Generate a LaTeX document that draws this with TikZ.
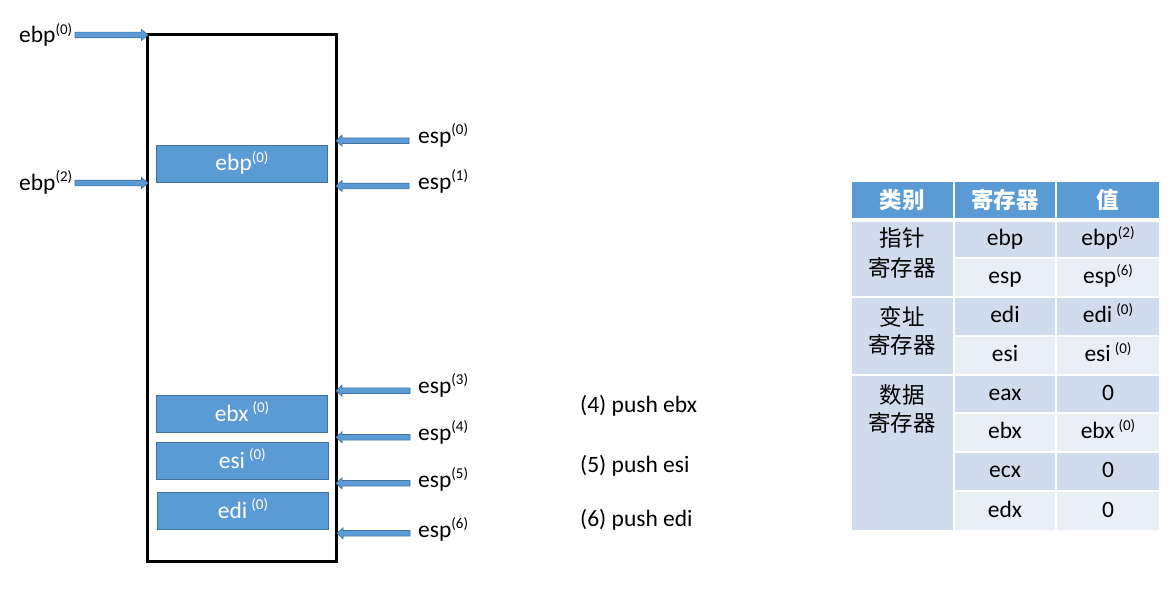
\documentclass[tikz,border=0pt]{standalone}
\usepackage{fontspec}
\setmainfont{Carlito}
\newfontfamily\cjk{Noto Sans CJK SC}
\usetikzlibrary{calc}
\definecolor{oblue}{HTML}{5B9BD5}
\definecolor{oedge}{HTML}{41719C}
\definecolor{rowA}{HTML}{D0DBEE}
\definecolor{rowB}{HTML}{E9EEF7}
\newcommand\sups[1]{\raisebox{8.5pt}{\fontsize{15}{15}\selectfont #1}}
\newcommand\barrow[3]{% from, tip, head offset
  \draw[blockarrow] ($(#1)+(0,-2.8)$) -- ($(#2)+(#3,-2.8)$) -- ($(#2)+(#3,-5.5)$) -- (#2)
    -- ($(#2)+(#3,5.5)$) -- ($(#2)+(#3,2.8)$) -- ($(#1)+(0,2.8)$) -- cycle;}
\newcommand\tcell[5]{\path[fill=#5, draw=white, line width=2pt] (#1,#2) rectangle (#3,#4);}
\begin{document}
\begin{tikzpicture}[x=1pt,y=-1pt,
  lbl/.style={font=\fontsize{23.5}{26}\selectfont, inner sep=0pt, anchor=base west},
  ctext/.style={font=\fontsize{23.5}{26}\selectfont, inner sep=0pt, anchor=base},
  cjktext/.style={font=\cjk\fontsize{22.5}{26}\selectfont, inner sep=0pt, anchor=base},
  hdr/.style={font=\cjk\bfseries\fontsize{22.5}{26}\selectfont, text=white, inner sep=0pt, anchor=base},
  blockarrow/.style={fill=oblue, draw=oedge, line width=0.6pt, line join=miter},
  memcell/.style={fill=oblue, draw=oedge, line width=0.8pt, text=white,
    font=\fontsize{23.5}{26}\selectfont, inner sep=0pt, minimum width=171pt,
    minimum height=37pt, text height=17pt, text depth=3pt}]
\useasboundingbox (0,0) rectangle (1175,594);

% stack frame
\node[draw, line width=3pt, minimum width=189pt, minimum height=526pt, inner sep=0pt] (stack) at (241.5,298) {};

\node[memcell] (bebp) at (242,163.8) {ebp\sups{(0)}};
\node[memcell] (bebx) at (242,414.2) {ebx\hspace{4pt}\sups{(0)}};
\node[memcell, minimum width=172pt] (besi) at (242.3,461.3) {esi\hspace{4pt}\sups{(0)}};
\node[memcell] (bedi) at (243,511.3) {edi\hspace{4pt}\sups{(0)}};

% left labels and arrows
\node[lbl] (lebp0) at (19,43) {ebp\sups{(0)}};
\node[lbl] (lebp2) at (19,190) {ebp\sups{(2)}};
\coordinate (a0s) at (75,35);   \coordinate (a0t) at (148,35);
\coordinate (a2s) at (75,183);  \coordinate (a2t) at (148,183);
\barrow{a0s}{a0t}{-6.5}
\barrow{a2s}{a2t}{-6.5}

% right labels and arrows
\node[lbl] (esp0) at (418,143) {esp\sups{(0)}};
\node[lbl] (esp1) at (418,189) {esp\sups{(1)}};
\node[lbl] (esp3) at (418,393) {esp\sups{(3)}};
\node[lbl] (esp4) at (418,440) {esp\sups{(4)}};
\node[lbl] (esp5) at (418,487) {esp\sups{(5)}};
\node[lbl] (esp6) at (418,537) {esp\sups{(6)}};
\coordinate (s0s) at (409,140.7); \coordinate (s0t) at (336,140.7);
\coordinate (s1s) at (409,186);   \coordinate (s1t) at (336,186);
\coordinate (s3s) at (410,390.7); \coordinate (s3t) at (336,390.7);
\coordinate (s4s) at (410,437.3); \coordinate (s4t) at (336,437.3);
\coordinate (s5s) at (410,483.3); \coordinate (s5t) at (336,483.3);
\coordinate (s6s) at (410,533.3); \coordinate (s6t) at (337,533.3);
\barrow{s0s}{s0t}{6}
\barrow{s1s}{s1t}{6}
\barrow{s3s}{s3t}{6}
\barrow{s4s}{s4t}{6}
\barrow{s5s}{s5t}{6}
\barrow{s6s}{s6t}{6}

% push instructions
\node[lbl] (p4) at (580,412) {(4) push ebx};
\node[lbl] (p5) at (580,472) {(5) push esi};
\node[lbl] (p6) at (580,526) {(6) push edi};

% table
\tcell{851}{181}{954}{219}{oblue}
\tcell{954}{181}{1056}{219}{oblue}
\tcell{1056}{181}{1160}{219}{oblue}
\tcell{851}{221}{954}{297}{rowA}
\tcell{851}{297}{954}{375}{rowA}
\tcell{851}{375}{954}{531}{rowA}
\tcell{954}{221}{1056}{258}{rowA} \tcell{1056}{221}{1160}{258}{rowA}
\tcell{954}{258}{1056}{297}{rowB} \tcell{1056}{258}{1160}{297}{rowB}
\tcell{954}{297}{1056}{336}{rowA} \tcell{1056}{297}{1160}{336}{rowA}
\tcell{954}{336}{1056}{375}{rowB} \tcell{1056}{336}{1160}{375}{rowB}
\tcell{954}{375}{1056}{413}{rowA} \tcell{1056}{375}{1160}{413}{rowA}
\tcell{954}{413}{1056}{452}{rowB} \tcell{1056}{413}{1160}{452}{rowB}
\tcell{954}{452}{1056}{491}{rowA} \tcell{1056}{452}{1160}{491}{rowA}
\tcell{954}{491}{1056}{531}{rowB} \tcell{1056}{491}{1160}{531}{rowB}

\node[hdr] (h1) at (902,208) {类别};
\node[hdr] (h2) at (1005,208) {寄存器};
\node[hdr] (h3) at (1108,208) {值};

\node[cjktext] (g1a) at (902,246) {指针};
\node[cjktext] (g1b) at (902,276) {寄存器};
\node[cjktext] (g2a) at (902,325) {变址};
\node[cjktext] (g2b) at (902,353.5) {寄存器};
\node[cjktext] (g3a) at (902,403.5) {数据};
\node[cjktext] (g3b) at (902,431.5) {寄存器};

\node[ctext] (r1) at (1005,245.5) {ebp};
\node[ctext] (r2) at (1005,283.5) {esp};
\node[ctext] (r3) at (1005,322.5) {edi};
\node[ctext] (r4) at (1005,361.5) {esi};
\node[ctext] (r5) at (1005,400) {eax};
\node[ctext] (r6) at (1005,438.5) {ebx};
\node[ctext] (r7) at (1005,477.5) {ecx};
\node[ctext] (r8) at (1005,517) {edx};

\node[ctext] (v1) at (1108,245.5) {ebp\sups{(2)}};
\node[ctext] (v2) at (1108,283.5) {esp\sups{(6)}};
\node[ctext] (v3) at (1108,322.5) {edi\hspace{4pt}\sups{(0)}};
\node[ctext] (v4) at (1108,361.5) {esi\hspace{4pt}\sups{(0)}};
\node[ctext] (v5) at (1108,400) {0};
\node[ctext] (v6) at (1108,438.5) {ebx\hspace{4pt}\sups{(0)}};
\node[ctext] (v7) at (1108,477.5) {0};
\node[ctext] (v8) at (1108,517) {0};
\end{tikzpicture}
\end{document}
